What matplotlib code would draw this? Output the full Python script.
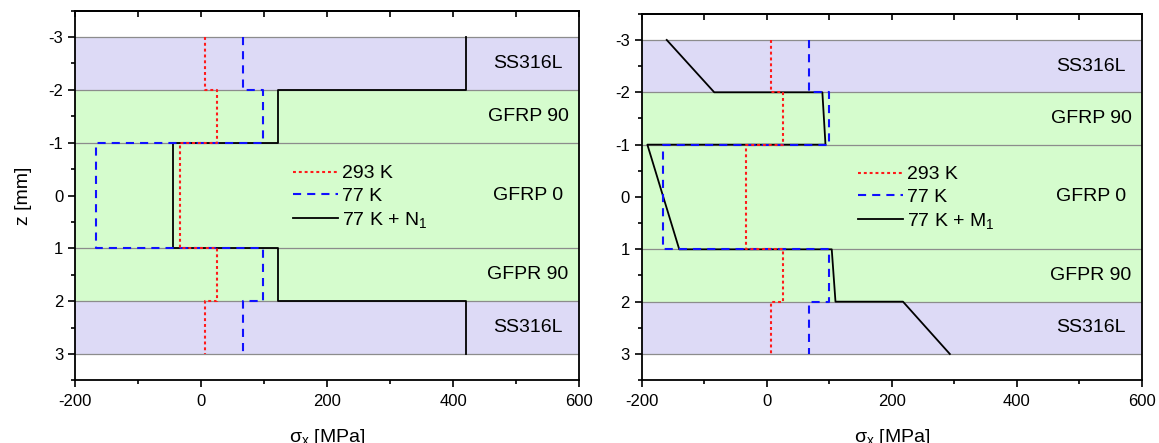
import numpy as np
import matplotlib
matplotlib.use("Agg")
import matplotlib.pyplot as plt
from matplotlib.ticker import MultipleLocator

plt.rcParams['font.family'] = ['Liberation Sans', 'DejaVu Sans']
plt.rcParams['mathtext.default'] = 'regular'
plt.rcParams['axes.unicode_minus'] = False

# layer stack (z in mm)
layer_names = ["SS316L", "GFRP 90", "GFRP 0", "GFPR 90", "SS316L"]
layer_bounds = [-3, -2, -1, 1, 2, 3]
layer_colors = ["#dddaf6", "#d5fccd", "#d5fccd", "#d5fccd", "#dddaf6"]

# stress profiles through thickness
z_pts = [-3, -2, -2, -1, -1, 1, 1, 2, 2, 3]
s_293 = [7, 7, 26, 26, -33, -33, 26, 26, 7, 7]
s_77 = [67, 67, 99, 99, -166, -166, 99, 99, 67, 67]
s_77_n1 = [420, 420, 122, 122, -45, -45, 122, 122, 420, 420]
s_77_m1 = [-160, -84, 89, 94, -191, -140, 104, 110, 218, 293]


def draw_layers(ax):
    for i, name in enumerate(layer_names):
        ax.axhspan(layer_bounds[i], layer_bounds[i + 1], color=layer_colors[i], lw=0, zorder=0)
        zc = 0.5 * (layer_bounds[i] + layer_bounds[i + 1])
        ax.text(519, zc, name, ha='center', va='center', fontsize=14, zorder=5)
    for b in layer_bounds:
        ax.axhline(b, color='#8c8c8c', lw=0.9, zorder=1)


def style_axes(ax):
    ax.set_xlim(-200, 600)
    ax.set_ylim(3.5, -3.5)
    ax.xaxis.set_major_locator(MultipleLocator(200))
    ax.xaxis.set_minor_locator(MultipleLocator(100))
    ax.yaxis.set_major_locator(MultipleLocator(1))
    ax.yaxis.set_minor_locator(MultipleLocator(0.5))
    ax.tick_params(which='major', direction='out', length=5, width=1.2, labelsize=12)
    ax.tick_params(which='minor', direction='out', length=3, width=1.2)
    ax.tick_params(axis='x', pad=5)
    for sp in ax.spines.values():
        sp.set_linewidth(1.3)
    sec = ax.secondary_xaxis('top')
    sec.xaxis.set_major_locator(MultipleLocator(100))
    sec.tick_params(direction='in', length=4, width=1.2, labeltop=False)
    sec.spines['top'].set_linewidth(1.3)
    ax.set_xlabel(r"$\sigma_x$ [MPa]", fontsize=14, labelpad=13)


def draw_panel(ax, s_mech, mech_label, leg_y):
    draw_layers(ax)
    l3, = ax.plot(s_mech, z_pts, color='black', lw=1.3, zorder=3)
    l2, = ax.plot(s_77, z_pts, color='#1010ff', lw=1.5, ls=(0, (3.9, 2.9)), zorder=3)
    l1, = ax.plot(s_293, z_pts, color='#ff1a1a', lw=1.5, ls=(0, (1.4, 1.4)), zorder=4)
    ax.legend([l1, l2, l3], ["293 K", "77 K", mech_label], loc='upper left',
              bbox_to_anchor=(0.433, leg_y), frameon=False, fontsize=14,
              handlelength=2.3, handletextpad=0.2, labelspacing=0.25,
              borderpad=0, borderaxespad=0)
    style_axes(ax)


def main():
    fig = plt.figure(figsize=(11.59, 4.43), dpi=100)
    ax1 = fig.add_axes([0.0647, 0.1413, 0.4349, 0.8347])
    ax2 = fig.add_axes([0.5537, 0.1418, 0.4314, 0.8271])

    draw_panel(ax1, s_77_n1, "77 K + N$_1$", 0.583)
    draw_panel(ax2, s_77_m1, "77 K + M$_1$", 0.585)
    ax1.set_ylabel("z [mm]", fontsize=14, labelpad=12)

    fig.savefig("out.png", dpi=100)


if __name__ == '__main__':
    main()
